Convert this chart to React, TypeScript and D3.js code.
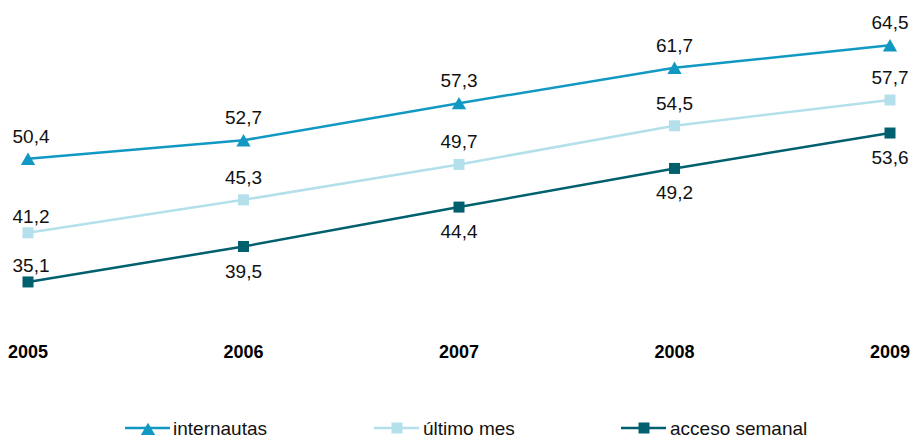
import React from "react";
import * as d3 from "d3";

const years = ["2005", "2006", "2007", "2008", "2009"];
const internautas = [50.4, 52.7, 57.3, 61.7, 64.5];
const ultimoMes = [41.2, 45.3, 49.7, 54.5, 57.7];
const accesoSemanal = [35.1, 39.5, 44.4, 49.2, 53.6];
const seriesNames = ["internautas", "último mes", "acceso semanal"];

const W = 910;
const H = 438;
const FONT = "'Liberation Sans', Arial, Helvetica, sans-serif";

export default function App() {
  const x = d3.scalePoint<string>().domain(years).range([28, 890]);
  const y = d3.scaleLinear().domain([30, 70]).range([323, 1]);

  const series = [
    { name: seriesNames[0], values: internautas, color: "#1199c4", marker: "tri", below: (i: number) => false },
    { name: seriesNames[1], values: ultimoMes, color: "#b4e0ec", marker: "sq", below: (i: number) => false },
    { name: seriesNames[2], values: accesoSemanal, color: "#00606e", marker: "sq", below: (i: number) => i > 0 },
  ];

  const line = d3
    .line<number>()
    .x((_, i) => x(years[i]) as number)
    .y((d) => y(d));

  const fmt = (v: number) => v.toFixed(1).replace(".", ",");
  const tri = d3.symbol().type(d3.symbolTriangle).size(88)();
  const sq = d3.symbol().type(d3.symbolSquare).size(121)();

  const legendX = [125, 374, 621];
  const legendTextX = [173, 423, 670];

  return (
    <svg
      width={W}
      height={H}
      style={{ position: "absolute", left: 0, top: 0, background: "#fff" }}
      fontFamily={FONT}
    >
      {series.map((s, si) => (
        <g key={s.name}>
          <path d={line(s.values) || ""} fill="none" stroke={s.color} strokeWidth={2.5} />
          {s.values.map((v, i) => {
            const cx = x(years[i]) as number;
            const cy = y(v);
            const below = s.below(i);
            let off = below ? 31 : -16;
            if (!below && i === 0 && si > 0) off = -10;
            return (
              <g key={i}>
                <path
                  d={(s.marker === "tri" ? tri : sq) || ""}
                  transform={`translate(${cx},${cy + (s.marker === "tri" ? 2 : 0)})`}
                  fill={s.color}
                />
                <text
                  x={cx + (i === 0 ? 3 : 0)}
                  y={cy + off}
                  textAnchor="middle"
                  fontSize={19}
                  fill="#111"
                >
                  {fmt(v)}
                </text>
              </g>
            );
          })}
        </g>
      ))}
      {years.map((yr) => (
        <text
          key={yr}
          x={x(yr) as number}
          y={358}
          textAnchor="middle"
          fontSize={18}
          fontWeight="bold"
          fill="#000"
        >
          {yr}
        </text>
      ))}
      {series.map((s, si) => {
        const lx = legendX[si];
        const ly = 428;
        return (
          <g key={"lg" + si}>
            <line x1={lx} x2={lx + 45} y1={ly} y2={ly} stroke={s.color} strokeWidth={2.5} />
            <path
              d={(s.marker === "tri" ? tri : sq) || ""}
              transform={`translate(${lx + 23},${ly + (s.marker === "tri" ? 3 : 0)})`}
              fill={s.color}
            />
            <text x={legendTextX[si]} y={435} fontSize={19} fill="#111">
              {s.name}
            </text>
          </g>
        );
      })}
    </svg>
  );
}
